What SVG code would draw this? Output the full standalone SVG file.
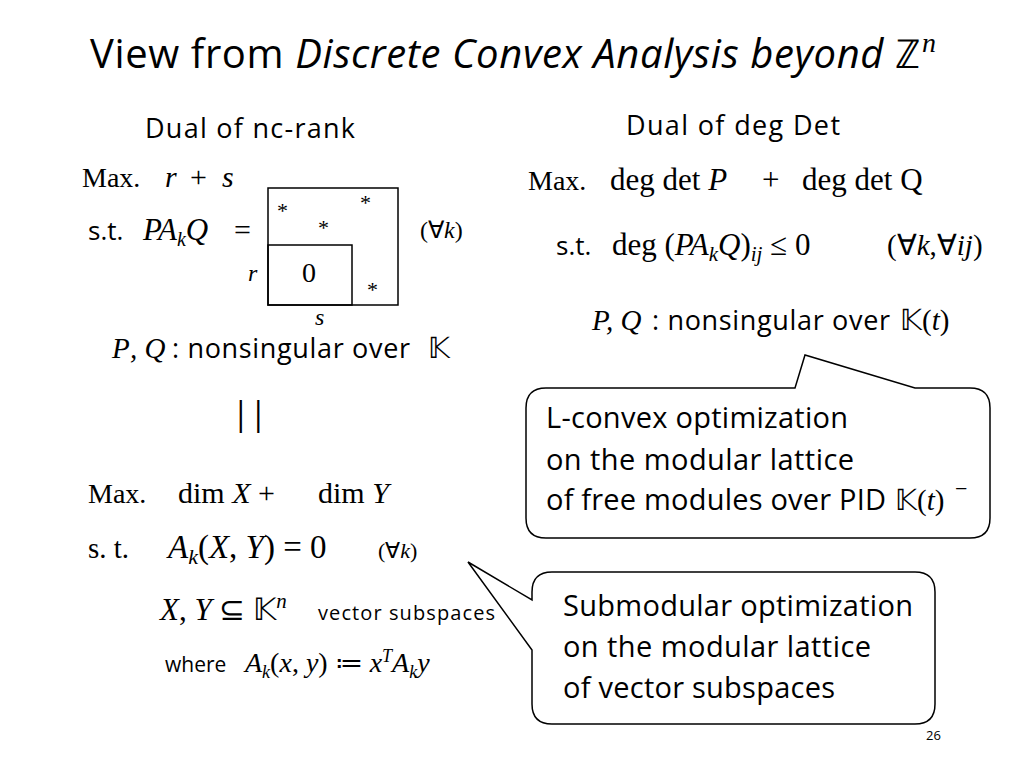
<svg xmlns="http://www.w3.org/2000/svg" width="1024" height="768" viewBox="0 0 1024 768">
<style>
.s{font-family:"Open Sans","Liberation Sans",sans-serif;fill:#000}
.m{font-family:"Liberation Serif",serif;fill:#000}
.i{font-style:italic}
.b{fill:#fff;stroke:#000;stroke-width:1.5}
</style>
<rect width="1024" height="768" fill="#fff"/>
<g id="title"><text x="90" y="68" class="s" font-size="40" textLength="830">View from <tspan font-style="italic">Discrete Convex Analysis beyond </tspan><tspan class="m">ℤ</tspan></text><text x="922" y="52" class="m i" font-size="28">n</text></g>
<g id="left">
<text x="145" y="138" class="s" font-size="27" textLength="210">Dual of nc-rank</text>
<text x="82" y="187" class="m" font-size="28">Max.</text>
<text x="165" y="187" class="m i" font-size="30">r</text><text x="190" y="187" class="m" font-size="30">+</text><text x="222" y="187" class="m i" font-size="30">s</text>
<text x="88" y="240" class="s" font-size="26">s.t.</text>
<text x="143" y="240" class="m i" font-size="31">PA<tspan font-size="20" dy="6">k</tspan><tspan dy="-6">Q</tspan></text><text x="234" y="240" class="m" font-size="30">=</text>
<rect x="268" y="188" width="130" height="117" fill="none" stroke="#000" stroke-width="1.5"/>
<rect x="268" y="245" width="84" height="60" fill="none" stroke="#000" stroke-width="1.5"/>
<text x="302" y="282" class="m" font-size="28">0</text>
<text x="277" y="218" class="m" font-size="22">*</text>
<text x="360" y="210" class="m" font-size="22">*</text>
<text x="318" y="235" class="m" font-size="22">*</text>
<text x="367" y="297" class="m" font-size="22">*</text>
<text x="248" y="281" class="m i" font-size="24">r</text>
<text x="315" y="325" class="m i" font-size="24">s</text>
<text x="420" y="238" class="m" font-size="24">(∀<tspan class="i">k</tspan>)</text>
<text x="112" y="358" class="m i" font-size="29">P</text><text x="130" y="358" class="m i" font-size="29">, Q</text><text x="172" y="358" class="s" font-size="27" textLength="238">: nonsingular over</text><text x="428" y="358" class="m" font-size="29">𝕂</text>
<text x="232" y="425" class="s" font-size="32">||</text>
<text x="88" y="503" class="m" font-size="28">Max.</text><text x="178" y="503" class="m" font-size="30">dim <tspan class="i">X</tspan> +</text><text x="318" y="503" class="m" font-size="30">dim <tspan class="i">Y</tspan></text>
<text x="88" y="558" class="m" font-size="29">s. t.</text>
<text x="168" y="558" class="m" font-size="33"><tspan class="i">A</tspan><tspan class="i" font-size="22" dy="6">k</tspan><tspan dy="-6">(</tspan><tspan class="i">X</tspan>, <tspan class="i">Y</tspan>) = 0</text>
<text x="378" y="558" class="m" font-size="22">(∀<tspan class="i">k</tspan>)</text>
<text x="160" y="620" class="m" font-size="31"><tspan class="i">X</tspan>, <tspan class="i">Y</tspan> ⊆ 𝕂<tspan class="i" font-size="21" dy="-12">n</tspan></text>
<text x="318" y="620" class="s" font-size="20" textLength="177">vector subspaces</text>
<text x="165" y="672" class="s" font-size="21">where</text>
<text x="245" y="672" class="m" font-size="28"><tspan class="i">A</tspan><tspan class="i" font-size="18" dy="6">k</tspan><tspan dy="-6">(</tspan><tspan class="i">x</tspan>, <tspan class="i">y</tspan>) ≔ <tspan class="i">x</tspan><tspan class="i" font-size="18" dy="-10">T</tspan><tspan class="i" dy="10">A</tspan><tspan class="i" font-size="18" dy="6">k</tspan><tspan class="i" dy="-6">y</tspan></text>
</g>
<g id="right">
<text x="626" y="135" class="s" font-size="27" textLength="214">Dual of deg Det</text>
<text x="528" y="190" class="m" font-size="28">Max.</text>
<text x="610" y="190" class="m" font-size="31">deg det <tspan class="i">P</tspan></text><text x="762" y="190" class="m" font-size="31">+</text><text x="802" y="190" class="m" font-size="31">deg det Q</text>
<text x="556" y="255" class="s" font-size="26">s.t.</text>
<text x="612" y="255" class="m" font-size="31">deg (<tspan class="i">PA</tspan><tspan class="i" font-size="21" dy="6">k</tspan><tspan class="i" dy="-6">Q</tspan>)<tspan class="i" font-size="21" dy="6">ij</tspan><tspan dy="-6"> ≤ 0</tspan></text>
<text x="887" y="255" class="m" font-size="29">(∀<tspan class="i">k</tspan>,∀<tspan class="i">ij</tspan>)</text>
<text x="592" y="330" class="m i" font-size="29">P, Q</text><text x="652" y="330" class="s" font-size="27" textLength="238">: nonsingular over</text><text x="900" y="330" class="m" font-size="29">𝕂(<tspan class="i">t</tspan>)</text>
</g>
<g id="connectors">
<path class="b" d="M546,388 H795 L805,355 L915,388 H970 Q990,388 990,408 V518 Q990,538 970,538 H546 Q526,538 526,518 V408 Q526,388 546,388 Z"/>
<path class="b" d="M552,572 H915 Q935,572 935,592 V704 Q935,724 915,724 H552 Q532,724 532,704 V650 L468,562 L532,600 V592 Q532,572 552,572 Z"/>
</g>
<g id="callout1">
<text x="546" y="428" class="s" font-size="29" textLength="302">L-convex optimization</text>
<text x="546" y="470" class="s" font-size="29" textLength="308">on the modular lattice</text>
<text x="546" y="510" class="s" font-size="29" textLength="340">of free modules over PID</text>
<text x="895" y="510" class="m" font-size="29">𝕂(<tspan class="i">t</tspan>)</text><text x="955" y="496" class="m" font-size="22">−</text>
</g>
<g id="callout2">
<text x="563" y="616" class="s" font-size="29" textLength="350">Submodular optimization</text>
<text x="563" y="657" class="s" font-size="29" textLength="308">on the modular lattice</text>
<text x="563" y="698" class="s" font-size="29" textLength="272">of vector subspaces</text>
</g>
<text x="926" y="740" class="s" font-size="13" fill="#777">26</text>
</svg>
